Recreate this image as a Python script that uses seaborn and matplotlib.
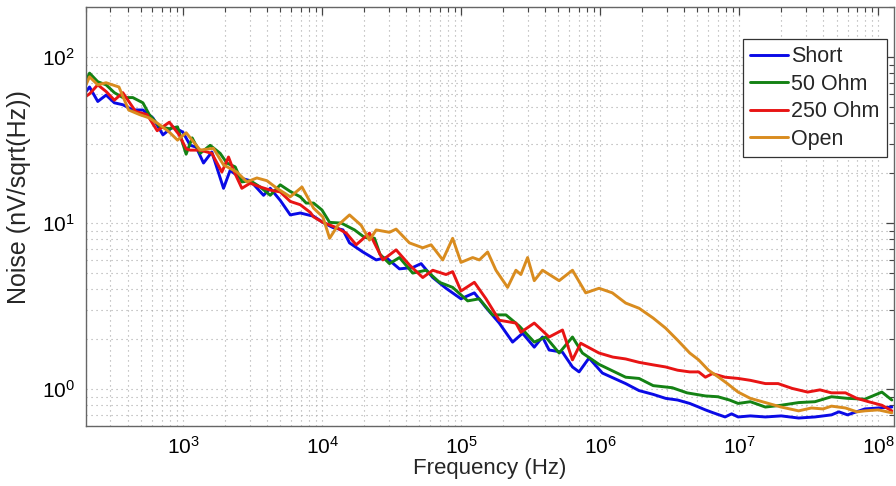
import numpy as np
import pandas as pd
import matplotlib
matplotlib.use("Agg")
import matplotlib.pyplot as plt
import matplotlib.ticker as mticker
import seaborn as sns

# ---- data ----
short_f = [200, 212, 243, 279, 320, 368, 434, 513, 605, 715, 843, 995, 1122, 1239, 1400, 1607, 1950,
           2178, 2570, 3034, 3784, 4227, 4990, 5890, 6950, 8660, 10100, 11940, 14090, 15710, 19590,
           24440, 28840, 35920, 44770, 51420, 62380, 77690, 99540, 124200, 150600, 187600, 233900,
           276000, 335000, 383900, 428500, 534500, 630700, 703600, 829800, 1035000, 1522000,
           1.9e6, 2.4e6, 2.95e6, 3.6e6, 4.4e6, 5.1e6, 5.7e6, 6.5e6, 7.9e6, 8.8e6, 9.8e6, 1.2e7,
           1.54e7, 2.0e7, 2.67e7, 3.5e7, 4.6e7, 5.2e7, 6.0e7, 8.0e7, 1.0e8, 1.25e8]
short_v = [62, 66, 54, 59, 53, 51.6, 48, 48, 43, 34, 38, 35.3, 29.4, 28.7, 23, 26.8, 16.2,
           20.8, 18.7, 18, 14.7, 16.2, 13.7, 11.2, 11.5, 11.0, 10.1, 9.4, 9.1, 7.6, 6.7,
           6.0, 6.2, 5.3, 5.4, 5.7, 4.7, 4.05, 3.5, 3.8, 3.1, 2.5, 1.92,
           2.17, 1.79, 2.06, 1.72, 1.67, 1.36, 1.27, 1.54, 1.25, 1.08,
           0.98, 0.93, 0.88, 0.86, 0.82, 0.78, 0.75, 0.72, 0.68, 0.71, 0.68, 0.69,
           0.68, 0.69, 0.67, 0.68, 0.70, 0.73, 0.70, 0.76, 0.77, 0.78]

ohm50_f = [200, 212, 243, 279, 320, 368, 434, 513, 570, 680, 795, 910, 1050, 1160, 1324, 1563,
           1845, 2061, 2366, 2642, 3034, 3580, 4227, 4990, 5890, 6950, 7670, 8660, 9950, 11300,
           13710, 17060, 20140, 23770, 26000, 30440, 35920, 44770, 55850, 69660, 86700, 111200,
           134900, 168000, 209500, 261200, 335000, 405500, 505800, 630700, 743600, 979500,
           1522000, 1.9e6, 2.4e6, 3.29e6, 4.2e6, 5.7e6, 7.0e6, 8.5e6, 9.8e6, 1.2e7, 1.54e7,
           2.0e7, 2.67e7, 3.5e7, 4.6e7, 6.0e7, 8.0e7, 1.06e8, 1.25e8]
ohm50_v = [72, 80, 71, 68, 61, 57, 57, 53, 45, 38, 37, 38, 26, 32.6, 26.3, 29.4,
           26.3, 23, 21.8, 17.7, 18, 16.5, 14.7, 17, 15.5, 14.4, 13.2, 13.2, 12, 10.1,
           10, 9.1, 8.2, 8.1, 6.5, 5.7, 6.2, 5.0, 5.2, 4.4, 4.1, 3.4,
           3.5, 2.8, 2.8, 2.4, 1.92, 2.06, 1.65, 2.06, 1.65, 1.41,
           1.18, 1.16, 1.05, 1.02, 0.95, 0.91, 0.90, 0.86, 0.82, 0.84, 0.78,
           0.80, 0.83, 0.84, 0.90, 0.88, 0.87, 0.96, 0.86]

ohm250_f = [200, 212, 243, 279, 320, 368, 455, 550, 650, 795, 935, 1050, 1122, 1324, 1607,
            1897, 2118, 2301, 2642, 3034, 3580, 4227, 4990, 5890, 6950, 8200, 8660, 10100, 12620,
            14890, 17540, 21880, 27290, 33990, 42360, 52840, 62380, 77690, 86700, 99540, 124200,
            150600, 187600, 247200, 268500, 335000, 428500, 534500, 630700, 723300, 979500,
            1230000, 1522000, 1.9e6, 2.4e6, 2.95e6, 3.6e6, 4.4e6, 5.1e6, 5.7e6, 6.4e6, 7.9e6,
            9.8e6, 1.2e7, 1.54e7, 1.9e7, 2.4e7, 3.1e7, 3.8e7, 4.6e7, 5.8e7, 7.0e7, 8.5e7,
            1.06e8, 1.25e8]
ohm250_v = [58, 60, 68, 62, 55, 61, 47, 45, 36, 40.5, 34, 28, 27.5, 27.5, 26.3,
            20.3, 25, 20.8, 16.2, 17.4, 16.5, 15.8, 15.4, 13.5, 12.9, 11.6, 10.9, 10.1, 9.4,
            8.7, 7.4, 8.7, 6.0, 6.9, 5.6, 4.7, 5.2, 4.9, 5.1, 3.9, 4.4,
            3.5, 2.6, 2.5, 2.2, 2.5, 2.06, 2.27, 1.5, 1.89, 1.65,
            1.56, 1.52, 1.45, 1.40, 1.36, 1.30, 1.27, 1.27, 1.18, 1.24, 1.18,
            1.16, 1.13, 1.08, 1.08, 1.01, 0.96, 0.99, 0.95, 0.95, 0.88, 0.84,
            0.80, 0.74]

open_f = [200, 212, 243, 279, 345, 405, 486, 570, 680, 795, 910, 1050, 1239, 1324, 1650, 1950,
          2433, 2871, 3389, 4000, 4723, 5890, 7150, 8660, 10100, 11300, 12970, 15710, 19050,
          21880, 24440, 30440, 33990, 42360, 52840, 60680, 73620, 86700, 99540, 120800, 134900,
          154800, 177600, 215400, 247200, 268500, 299900, 335000, 383900, 505800, 630700,
          785600, 979500, 1221000, 1522000, 1.9e6, 2.4e6, 2.95e6, 3.6e6, 4.4e6, 5.1e6, 6.0e6,
          7.1e6, 8.2e6, 9.8e6, 1.2e7, 1.54e7, 2.0e7, 2.67e7, 3.3e7, 4.0e7, 4.6e7, 5.8e7,
          7.0e7, 8.0e7, 1.0e8, 1.25e8]
open_v = [68, 76, 68, 70, 66, 48, 45, 43, 39, 35.3, 31.6, 35, 29.5, 27.5, 28.2, 22.4,
          20.3, 17.7, 18.7, 18, 16.2, 14.4, 16.5, 12.3, 10.9, 8.1, 9.7, 11.2, 9.7,
          7.9, 9.1, 8.8, 9.2, 7.6, 7.1, 7.4, 6.0, 8.1, 5.8, 6.2, 6.0,
          6.7, 5.2, 4.1, 5.2, 4.9, 6.2, 4.5, 5.2, 4.5, 5.2,
          3.8, 4.05, 3.8, 3.3, 3.07, 2.68, 2.33, 1.97, 1.65, 1.5, 1.3,
          1.18, 1.08, 0.96, 0.88, 0.83, 0.78, 0.74, 0.77, 0.76, 0.79, 0.77,
          0.73, 0.74, 0.75, 0.72]

series_names = ["Short", "50 Ohm", "250 Ohm", "Open"]
series_f = [short_f, ohm50_f, ohm250_f, open_f]
series_v = [short_v, ohm50_v, ohm250_v, open_v]
colors = ["#0a0ae6", "#148214", "#e81414", "#d98c1f"]

frames = []
for name, f, v in zip(series_names, series_f, series_v):
    frames.append(pd.DataFrame({"Frequency": f, "Noise": v, "Series": name}))
df = pd.concat(frames, ignore_index=True)

# ---- style ----
sns.set_theme(style="white")
plt.rcParams["font.family"] = ["Liberation Sans", "DejaVu Sans"]
plt.rcParams["mathtext.default"] = "regular"

fig = plt.figure(figsize=(8.96, 4.86), dpi=100)
ax = fig.add_axes([0.096, 0.1235, 0.902, 0.862])

sns.lineplot(data=df, x="Frequency", y="Noise", hue="Series", hue_order=series_names,
             palette=colors, sort=False, estimator=None, units="Series",
             linewidth=2.1, ax=ax, legend=True)

ax.set_xscale("log")
ax.set_yscale("log")
ax.set_xlim(200, 1.3e8)
ax.set_ylim(0.6, 200)

ax.xaxis.set_major_locator(mticker.LogLocator(base=10, numticks=20))
ax.xaxis.set_minor_locator(mticker.LogLocator(base=10, subs=np.arange(2, 10), numticks=20))
ax.yaxis.set_major_locator(mticker.LogLocator(base=10, numticks=20))
ax.yaxis.set_minor_locator(mticker.LogLocator(base=10, subs=np.arange(2, 10), numticks=20))
ax.xaxis.set_minor_formatter(mticker.NullFormatter())
ax.yaxis.set_minor_formatter(mticker.NullFormatter())

ax.grid(True, which="both", linestyle=(0, (1, 3.5)), color="#a8a8a8", linewidth=0.8)
ax.tick_params(which="both", direction="in", top=True, right=True, colors="#444444",
               labelcolor="black")
ax.tick_params(which="major", length=6, width=0.9, labelsize=15)
ax.tick_params(axis="y", which="major", pad=8)
ax.tick_params(axis="x", which="major", pad=7)
ax.tick_params(which="minor", length=3.5, width=0.8)
for s in ax.spines.values():
    s.set_color("#666666")
    s.set_linewidth(1.0)

ax.set_xlabel("Frequency (Hz)", fontsize=16, labelpad=0)
ax.set_ylabel("Noise (nV/sqrt(Hz))", fontsize=18, labelpad=6)
ax.yaxis.set_label_coords(-0.068, 0.547)

handles, labels = ax.get_legend_handles_labels()
leg = ax.legend(handles, labels, loc="upper right", bbox_to_anchor=(0.991, 0.924),
                borderaxespad=0, fontsize=15.5, frameon=True, fancybox=False,
                edgecolor="#333333", framealpha=1, handlelength=1.75, handletextpad=0.15,
                labelspacing=0.3, borderpad=0.35)
leg.get_frame().set_linewidth(0.9)

fig.savefig("out.png", dpi=100)
